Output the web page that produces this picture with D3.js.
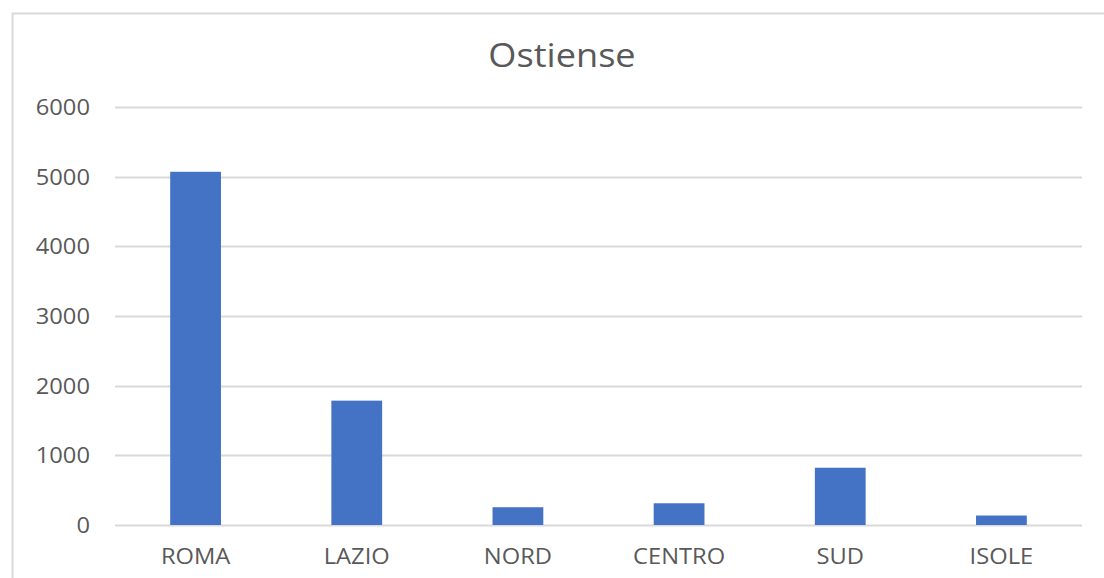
<!DOCTYPE html>
<html>
<head>
<meta charset="utf-8">
<script src="https://cdn.jsdelivr.net/npm/d3@7"></script>
<style>
  html, body { margin: 0; padding: 0; background: #fff; }
  svg { display: block; }
  text { font-family: "Open Sans", sans-serif; fill: #595959; }
</style>
</head>
<body>
<svg id="chart" width="1104" height="578"></svg>
<script>
const title = "Ostiense";
const categories = ["ROMA", "LAZIO", "NORD", "CENTRO", "SUD", "ISOLE"];
const values = [5070, 1785, 255, 312, 822, 136];
const yTicks = [0, 1000, 2000, 3000, 4000, 5000, 6000];

const W = 1104, H = 578;
const stretch = 1.13;
const margin = { left: 115, right: 22, top: 107, bottom: 53 };

const svg = d3.select("#chart");

// chart area border
svg.append("rect")
  .attr("x", 12.5).attr("y", 13.5)
  .attr("width", W + 10).attr("height", H + 10)
  .attr("fill", "#fff").attr("stroke", "#d9d9d9").attr("stroke-width", 2);

const x = d3.scaleBand()
  .domain(categories)
  .range([margin.left, W - margin.right])
  .paddingInner(0.685)
  .paddingOuter(0.3425);

const y = d3.scaleLinear()
  .domain([0, 6000])
  .range([H - margin.bottom, margin.top]);

// gridlines
svg.append("g").selectAll("line")
  .data(yTicks)
  .join("line")
  .attr("x1", margin.left).attr("x2", W - margin.right)
  .attr("y1", d => Math.round(y(d)) + 0.5).attr("y2", d => Math.round(y(d)) + 0.5)
  .attr("stroke", "#d9d9d9").attr("stroke-width", 2);

// y labels
svg.append("g").selectAll("text")
  .data(yTicks)
  .join("text")
  .attr("text-anchor", "end")
  .attr("font-size", 21)
  .attr("transform", d => `translate(90,${y(d) + 8}) scale(${stretch},1)`)
  .text(d => d);

// bars
svg.append("g").selectAll("rect")
  .data(values)
  .join("rect")
  .attr("x", (d, i) => x(categories[i]))
  .attr("width", x.bandwidth())
  .attr("y", d => y(d))
  .attr("height", d => y(0) - y(d))
  .attr("fill", "#4472c4");

// category labels
svg.append("g").selectAll("text")
  .data(categories)
  .join("text")
  .attr("text-anchor", "middle")
  .attr("font-size", 21)
  .attr("transform", d => `translate(${x(d) + x.bandwidth() / 2},564) scale(${stretch},1)`)
  .text(d => d);

// title
svg.append("text")
  .attr("text-anchor", "middle")
  .attr("font-size", 32)
  .attr("transform", `translate(562,67) scale(${stretch},1)`)
  .text(title);
</script>
</body>
</html>
